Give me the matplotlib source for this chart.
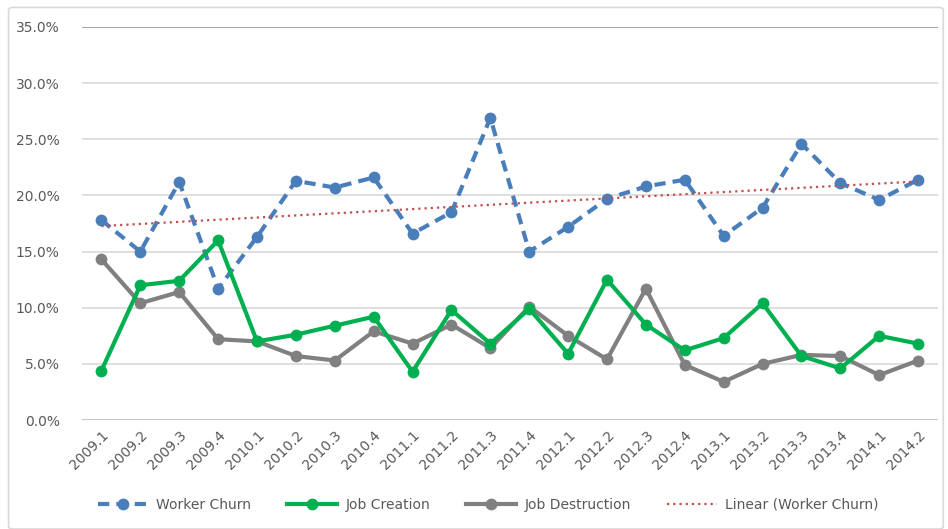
import matplotlib.pyplot as plt
import numpy as np
from matplotlib.patches import FancyBboxPatch
from matplotlib.ticker import FuncFormatter

# quarters and series (percent)
quarters = ['2009.1', '2009.2', '2009.3', '2009.4', '2010.1', '2010.2', '2010.3', '2010.4',
            '2011.1', '2011.2', '2011.3', '2011.4', '2012.1', '2012.2', '2012.3', '2012.4',
            '2013.1', '2013.2', '2013.3', '2013.4', '2014.1', '2014.2']
worker_churn = [17.8, 15.0, 21.2, 11.7, 16.3, 21.3, 20.7, 21.6, 16.6, 18.5, 26.9, 15.0,
                17.2, 19.7, 20.8, 21.4, 16.4, 18.9, 24.6, 21.1, 19.6, 21.4]
job_creation = [4.4, 12.0, 12.4, 16.0, 7.0, 7.6, 8.4, 9.2, 4.3, 9.8, 6.8, 9.9,
                5.9, 12.5, 8.5, 6.2, 7.3, 10.4, 5.7, 4.6, 7.5, 6.8]
job_destruction = [14.3, 10.4, 11.4, 7.2, 7.0, 5.7, 5.3, 7.9, 6.8, 8.5, 6.4, 10.1,
                   7.5, 5.4, 11.7, 4.9, 3.4, 5.0, 5.8, 5.7, 4.0, 5.3]

x = np.arange(len(quarters))

fig = plt.figure(figsize=(9.48, 5.29), dpi=100)
ax = fig.add_axes([0.0865, 0.206, 0.9025, 0.743])

# outer chart border
fig.patches.append(FancyBboxPatch((0.009, 0.0), 0.986, 0.986, boxstyle='round,pad=0,rounding_size=0.005',
                                  transform=fig.transFigure, fill=False, ec='#d9d9d9', lw=1.2))

# gridlines
for v in range(0, 40, 5):
    ax.axhline(v, color='#d9d9d9', lw=1.2, zorder=0)
ax.axhline(35, color='#a6a6a6', lw=1.5, zorder=0)
ax.axhline(0, color='#bfbfbf', lw=1.2, zorder=1)

ax.plot(x, worker_churn, color='#4a7ebb', lw=3, ls=(0, (2.7, 1.7)), marker='o', ms=8.5, mew=0,
        label='Worker Churn', zorder=3)
ax.plot(x, job_creation, color='#00b050', lw=3, marker='o', ms=8.5, mew=0, label='Job Creation', zorder=4)
ax.plot(x, job_destruction, color='#808080', lw=3, marker='o', ms=8.5, mew=0, label='Job Destruction', zorder=3)

# linear trendline of worker churn
k, b = np.polyfit(x, worker_churn, 1)
ax.plot(x, k * x + b, color='#c0504d', lw=1.6, ls=(0, (1, 1.8)), label='Linear (Worker Churn)', zorder=5)

ax.set_xlim(-0.5, len(quarters) - 0.5)
ax.set_ylim(0, 35)
ax.set_yticks(range(0, 40, 5))
ax.yaxis.set_major_formatter(FuncFormatter(lambda v, p: f'{v:.1f}%'))
ax.set_xticks(x)
ax.set_xticklabels(quarters, rotation=45, ha='right', rotation_mode='anchor')
ax.tick_params(axis='both', length=0, colors='#595959', labelsize=10)
ax.tick_params(axis='y', pad=16)
ax.tick_params(axis='x', pad=6)
for s in ax.spines.values():
    s.set_visible(False)

fig.legend(loc='center', bbox_to_anchor=(0.515, 0.046), ncol=4, frameon=False, fontsize=10,
           handlelength=3.6, handletextpad=0.6, columnspacing=2.6, labelcolor='#595959')

plt.savefig('out.png', dpi=100)
